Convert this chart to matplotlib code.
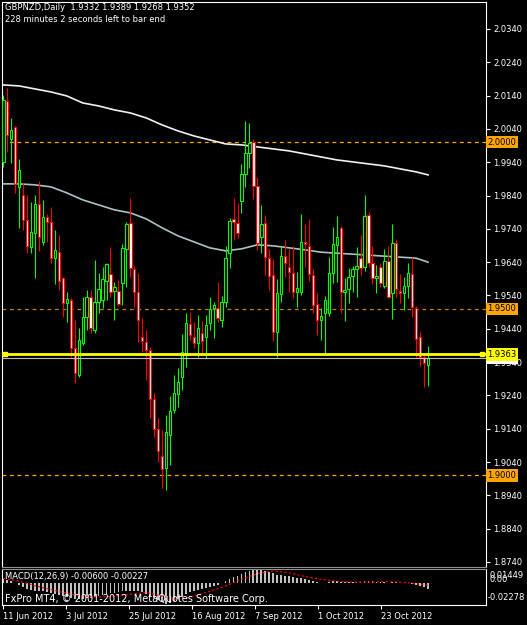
import numpy as np
import matplotlib.pyplot as plt

plt.rcParams['font.family'] = 'DejaVu Sans'

# daily GBPNZD candles
opens = [1.9941, 2.0124, 2.0010, 2.0046, 1.9866, 1.9842, 1.9767, 1.9686, 1.9728, 1.9815,
         1.9701, 1.9776, 1.9761, 1.9652, 1.9670, 1.9592, 1.9517, 1.9526, 1.9382, 1.9301,
         1.9397, 1.9475, 1.9535, 1.9436, 1.9520, 1.9526, 1.9583, 1.9604, 1.9553, 1.9553,
         1.9577, 1.9680, 1.9758, 1.9619, 1.9550, 1.9415, 1.9400, 1.9376, 1.9229, 1.9139,
         1.9058, 1.9022, 1.9121, 1.9196, 1.9244, 1.9295, 1.9367, 1.9454, 1.9415, 1.9397,
         1.9427, 1.9415, 1.9457, 1.9502, 1.9502, 1.9466, 1.9520, 1.9667, 1.9770, 1.9758,
         1.9824, 1.9905, 1.9968, 2.0001, 1.9869, 1.9716, 1.9758, 1.9652, 1.9601, 1.9430,
         1.9544, 1.9658, 1.9625, 1.9607, 1.9550, 1.9550, 1.9701, 1.9689, 1.9601, 1.9514,
         1.9466, 1.9487, 1.9487, 1.9607, 1.9692, 1.9743, 1.9550, 1.9559, 1.9598, 1.9619,
         1.9652, 1.9625, 1.9782, 1.9637, 1.9592, 1.9625, 1.9568, 1.9643, 1.9547, 1.9698,
         1.9553, 1.9547, 1.9568, 1.9604, 1.9502, 1.9415, 1.9355, 1.9332]
highs = [2.0142, 2.0163, 2.0073, 2.0049, 1.9950, 1.9878, 1.9842, 1.9821, 1.9842, 1.9884,
         1.9827, 1.9785, 1.9806, 1.9737, 1.9722, 1.9595, 1.9550, 1.9532, 1.9466, 1.9442,
         1.9535, 1.9556, 1.9556, 1.9646, 1.9607, 1.9625, 1.9637, 1.9686, 1.9580, 1.9586,
         1.9695, 1.9761, 1.9833, 1.9628, 1.9607, 1.9472, 1.9436, 1.9385, 1.9247, 1.9172,
         1.9136, 1.9181, 1.9238, 1.9301, 1.9322, 1.9424, 1.9487, 1.9490, 1.9460, 1.9481,
         1.9463, 1.9481, 1.9535, 1.9520, 1.9580, 1.9538, 1.9689, 1.9773, 1.9833, 1.9818,
         1.9935, 2.0064, 2.0058, 2.0010, 1.9896, 1.9812, 1.9782, 1.9680, 1.9649, 1.9589,
         1.9689, 1.9707, 1.9680, 1.9689, 1.9610, 1.9785, 1.9755, 1.9770, 1.9619, 1.9547,
         1.9502, 1.9538, 1.9655, 1.9746, 1.9779, 1.9749, 1.9592, 1.9622, 1.9628, 1.9686,
         1.9722, 1.9842, 1.9791, 1.9689, 1.9631, 1.9637, 1.9680, 1.9689, 1.9755, 1.9710,
         1.9604, 1.9595, 1.9637, 1.9655, 1.9508, 1.9430, 1.9367, 1.9389]
lows = [1.9926, 1.9971, 1.9938, 1.9848, 1.9743, 1.9737, 1.9667, 1.9667, 1.9592, 1.9674,
        1.9692, 1.9701, 1.9637, 1.9574, 1.9556, 1.9475, 1.9460, 1.9355, 1.9277, 1.9295,
        1.9391, 1.9436, 1.9427, 1.9427, 1.9487, 1.9502, 1.9526, 1.9535, 1.9466, 1.9508,
        1.9511, 1.9565, 1.9595, 1.9505, 1.9400, 1.9370, 1.9286, 1.9172, 1.9115, 1.9040,
        1.8962, 1.8956, 1.9031, 1.9187, 1.9205, 1.9256, 1.9325, 1.9406, 1.9382, 1.9355,
        1.9367, 1.9352, 1.9436, 1.9412, 1.9460, 1.9445, 1.9505, 1.9622, 1.9707, 1.9713,
        1.9788, 1.9866, 1.9923, 1.9830, 1.9677, 1.9667, 1.9601, 1.9556, 1.9403, 1.9355,
        1.9520, 1.9595, 1.9550, 1.9532, 1.9505, 1.9541, 1.9625, 1.9583, 1.9487, 1.9421,
        1.9406, 1.9361, 1.9478, 1.9577, 1.9580, 1.9487, 1.9463, 1.9517, 1.9550, 1.9535,
        1.9601, 1.9613, 1.9625, 1.9574, 1.9547, 1.9565, 1.9562, 1.9532, 1.9469, 1.9535,
        1.9517, 1.9496, 1.9532, 1.9475, 1.9355, 1.9328, 1.9265, 1.9268]
closes = [2.0127, 2.0022, 2.0037, 1.9875, 1.9917, 1.9767, 1.9689, 1.9731, 1.9815, 1.9716,
          1.9776, 1.9761, 1.9652, 1.9677, 1.9583, 1.9517, 1.9529, 1.9382, 1.9307, 1.9406,
          1.9475, 1.9535, 1.9442, 1.9520, 1.9559, 1.9589, 1.9634, 1.9550, 1.9565, 1.9514,
          1.9683, 1.9755, 1.9622, 1.9550, 1.9466, 1.9403, 1.9376, 1.9229, 1.9139, 1.9073,
          1.9019, 1.9130, 1.9193, 1.9247, 1.9280, 1.9370, 1.9457, 1.9421, 1.9397, 1.9442,
          1.9403, 1.9451, 1.9499, 1.9511, 1.9472, 1.9520, 1.9652, 1.9764, 1.9761, 1.9728,
          1.9905, 1.9968, 1.9998, 1.9869, 1.9698, 1.9755, 1.9655, 1.9598, 1.9430, 1.9547,
          1.9658, 1.9637, 1.9610, 1.9550, 1.9562, 1.9701, 1.9695, 1.9604, 1.9511, 1.9466,
          1.9478, 1.9526, 1.9607, 1.9695, 1.9716, 1.9550, 1.9556, 1.9595, 1.9619, 1.9628,
          1.9622, 1.9779, 1.9637, 1.9592, 1.9598, 1.9577, 1.9643, 1.9535, 1.9698, 1.9559,
          1.9547, 1.9568, 1.9607, 1.9505, 1.9409, 1.9355, 1.9337, 1.9352]

# moving averages, sampled every few bars
ma_bars = [0, 4, 8, 12, 16, 20, 24, 28, 32, 36, 40, 44, 48, 52, 56, 60, 64, 68, 72,
           76, 80, 84, 88, 92, 96, 100, 104, 107]
ma_slow = [2.0172, 2.0169, 2.0160, 2.0151, 2.0139, 2.0118, 2.0109, 2.0097, 2.0088, 2.0073,
           2.0052, 2.0034, 2.0019, 2.0007, 1.9995, 1.9992, 1.9986, 1.9980, 1.9974, 1.9965,
           1.9956, 1.9947, 1.9941, 1.9935, 1.9929, 1.9920, 1.9911, 1.9902]
ma_fast = [1.9875, 1.9875, 1.9872, 1.9866, 1.9848, 1.9827, 1.9812, 1.9797, 1.9788, 1.9770,
           1.9743, 1.9719, 1.9701, 1.9683, 1.9674, 1.9680, 1.9692, 1.9689, 1.9683, 1.9677,
           1.9670, 1.9667, 1.9664, 1.9661, 1.9658, 1.9655, 1.9652, 1.9640]

# MACD(12,26,9) main line (thousandths) and its signal line
macd_main = [4, 3, 2, 0, -2, -4, -6, -7, -8, -9,
             -9, -10, -11, -12, -13, -14, -15, -16, -17, -17,
             -17, -16, -16, -15, -14, -13, -12, -11, -11, -10,
             -9, -8, -8, -8, -9, -10, -12, -14, -16, -18,
             -20, -22.8, -21, -19, -17, -15, -12, -10, -8, -7,
             -6, -5, -4, -3, -2, 0, 2, 4, 6, 8,
             10, 12, 13, 14, 14.5, 14, 13, 12, 11, 9,
             9, 8, 7, 6, 5, 5, 4, 3, 2, 1,
             0, 0, 1, 2, 2, 1, 1, 1, 1, 1,
             1, 2, 2, 2, 1, 1, 1, 0, 1, 1,
             0, 0, 0, -1, -2, -3, -4, -6]
signal_bars = [0, 4, 8, 12, 16, 20, 24, 28, 32, 36, 40, 44, 48, 52, 56, 60, 64, 68, 72,
               76, 80, 84, 88, 92, 96, 100, 104, 107]
macd_signal = [5, 2, -3, -7, -11, -14, -15, -14, -12, -10, -14, -18, -14, -9, -3, 4, 10, 13,
               11, 7, 4, 2, 1, 1, 1.5, 1, -0.5, -2.27]

date_labels = ['11 Jun 2012', '3 Jul 2012', '25 Jul 2012', '16 Aug 2012',
               '7 Sep 2012', '1 Oct 2012', '23 Oct 2012']
levels = [2.0000, 1.9500, 1.9000]
trend_price = 1.9363
bid_price = 1.9352

W, H = 527, 625


def box(x0, y0, x1, y1):
    return [x0 / W, 1 - y1 / H, (x1 - x0) / W, (y1 - y0) / H]


fig = plt.figure(figsize=(W / 100, H / 100), dpi=100, facecolor='black')

ax = fig.add_axes(box(2, 2, 486, 567))
ax.set_facecolor('black')
ax.set_xlim(-0.33, 121.6)
ax.set_ylim(1.87249, 2.0421)
for s in ['left', 'top', 'right']:
    ax.spines[s].set_color('white')
    ax.spines[s].set_linewidth(0.8)
ax.spines['bottom'].set_color('#909090')
ax.set_xticks([])
ax.yaxis.tick_right()
yt = np.round(1.874 + 0.01 * np.arange(17), 4)
ax.set_yticks(yt)
ax.set_yticklabels([f'{v:.4f}' for v in yt])
ax.tick_params(axis='y', colors='white', length=3, width=0.8, labelsize=6, pad=2)

o = np.array(opens)
h = np.array(highs)
l = np.array(lows)
c = np.array(closes)
x = np.arange(len(o))
up = c >= o

ax.vlines(x, l, h, colors=np.where(up, '#00ff00', '#ff0000'), lw=0.8, zorder=3)
body = np.maximum(np.abs(c - o), 0.00012)
ax.bar(x, body, bottom=np.minimum(o, c), width=0.6,
       color=np.where(up, 'black', 'white'),
       edgecolor=np.where(up, '#00ff00', '#ff0000'), linewidth=0.8, zorder=4)

ax.plot(ma_bars, ma_slow, color='#f0f0f0', lw=1.2, zorder=2)
ax.plot(ma_bars, ma_fast, color='#a8c4c4', lw=1.2, zorder=2)

level_colors = ['#ffa500', '#c88000', '#ffa500']
for p, col in zip(levels, level_colors):
    ax.axhline(p, color=col, ls=(0, (3, 3)), lw=0.9, zorder=1)
    ax.text(1.003, p, f'{p:.4f}', transform=ax.get_yaxis_transform(), fontsize=6,
            color='black', va='center', ha='left', clip_on=False, zorder=10,
            bbox=dict(boxstyle='square,pad=0.2', fc='#ffa500', ec='none'))

# bid line, its label mostly hidden under the yellow one as in the terminal
ax.axhline(bid_price, color='#c0c0c0', lw=0.8, zorder=5)
ax.text(1.003, bid_price, f'{bid_price:.4f}', transform=ax.get_yaxis_transform(),
        fontsize=6, color='black', va='center', ha='left', clip_on=False, zorder=9,
        bbox=dict(boxstyle='square,pad=0.2', fc='white', ec='none'))
ax.axhline(trend_price, color='#ffff00', lw=2.0, zorder=6)
ax.plot([0.3, 120.6], [trend_price, trend_price], 's', color='#ffff00', ms=3.5, zorder=7)
ax.text(1.003, trend_price, f'{trend_price:.4f}', transform=ax.get_yaxis_transform(),
        fontsize=6, color='black', va='center', ha='left', clip_on=False, zorder=11,
        bbox=dict(boxstyle='square,pad=0.2', fc='#ffff00', ec='none'))

fig.text(5 / W, 1 - 8 / H, 'GBPNZD,Daily  1.9332 1.9389 1.9268 1.9352',
         color='white', fontsize=6, va='center')
fig.text(5 / W, 1 - 19 / H, '228 minutes 2 seconds left to bar end',
         color='white', fontsize=6, va='center')

# MACD sub window
axm = fig.add_axes(box(2, 569, 486, 605))
axm.set_facecolor('black')
axm.set_xlim(-0.33, 121.6)
axm.set_ylim(-0.0235, 0.0150)
for s in ['left', 'bottom', 'right']:
    axm.spines[s].set_color('white')
    axm.spines[s].set_linewidth(0.8)
axm.spines['top'].set_color('#909090')
axm.set_yticks([])
axm.bar(x, np.array(macd_main) * 1e-3, width=0.45, color='#c0c0c0', zorder=2)
axm.plot(signal_bars, np.array(macd_signal) * 1e-3, color='#ff0000',
         ls=(0, (2, 2)), lw=0.8, zorder=3)
axm.set_xticks(np.arange(len(date_labels)) * 15.85)
axm.set_xticklabels(date_labels, ha='left')
axm.tick_params(axis='x', colors='white', length=3, width=0.8, labelsize=6, pad=2)

fig.text(5 / W, 1 - 577 / H, 'MACD(12,26,9) -0.00600 -0.00227',
         color='white', fontsize=6, va='center')
fig.text(5 / W, 1 - 599 / H, 'FxPro MT4, \u00a9 2001-2012, MetaQuotes Software Corp.',
         color='white', fontsize=7, va='center')
fig.text(490 / W, 1 - 575 / H, '0.01449', color='white', fontsize=6, va='center')
fig.text(490 / W, 1 - 580 / H, '0.00', color='white', fontsize=6, va='center')
fig.text(488 / W, 1 - 597 / H, '-0.02278', color='white', fontsize=6, va='center')

fig.savefig('out.png', dpi=100, facecolor='black')
